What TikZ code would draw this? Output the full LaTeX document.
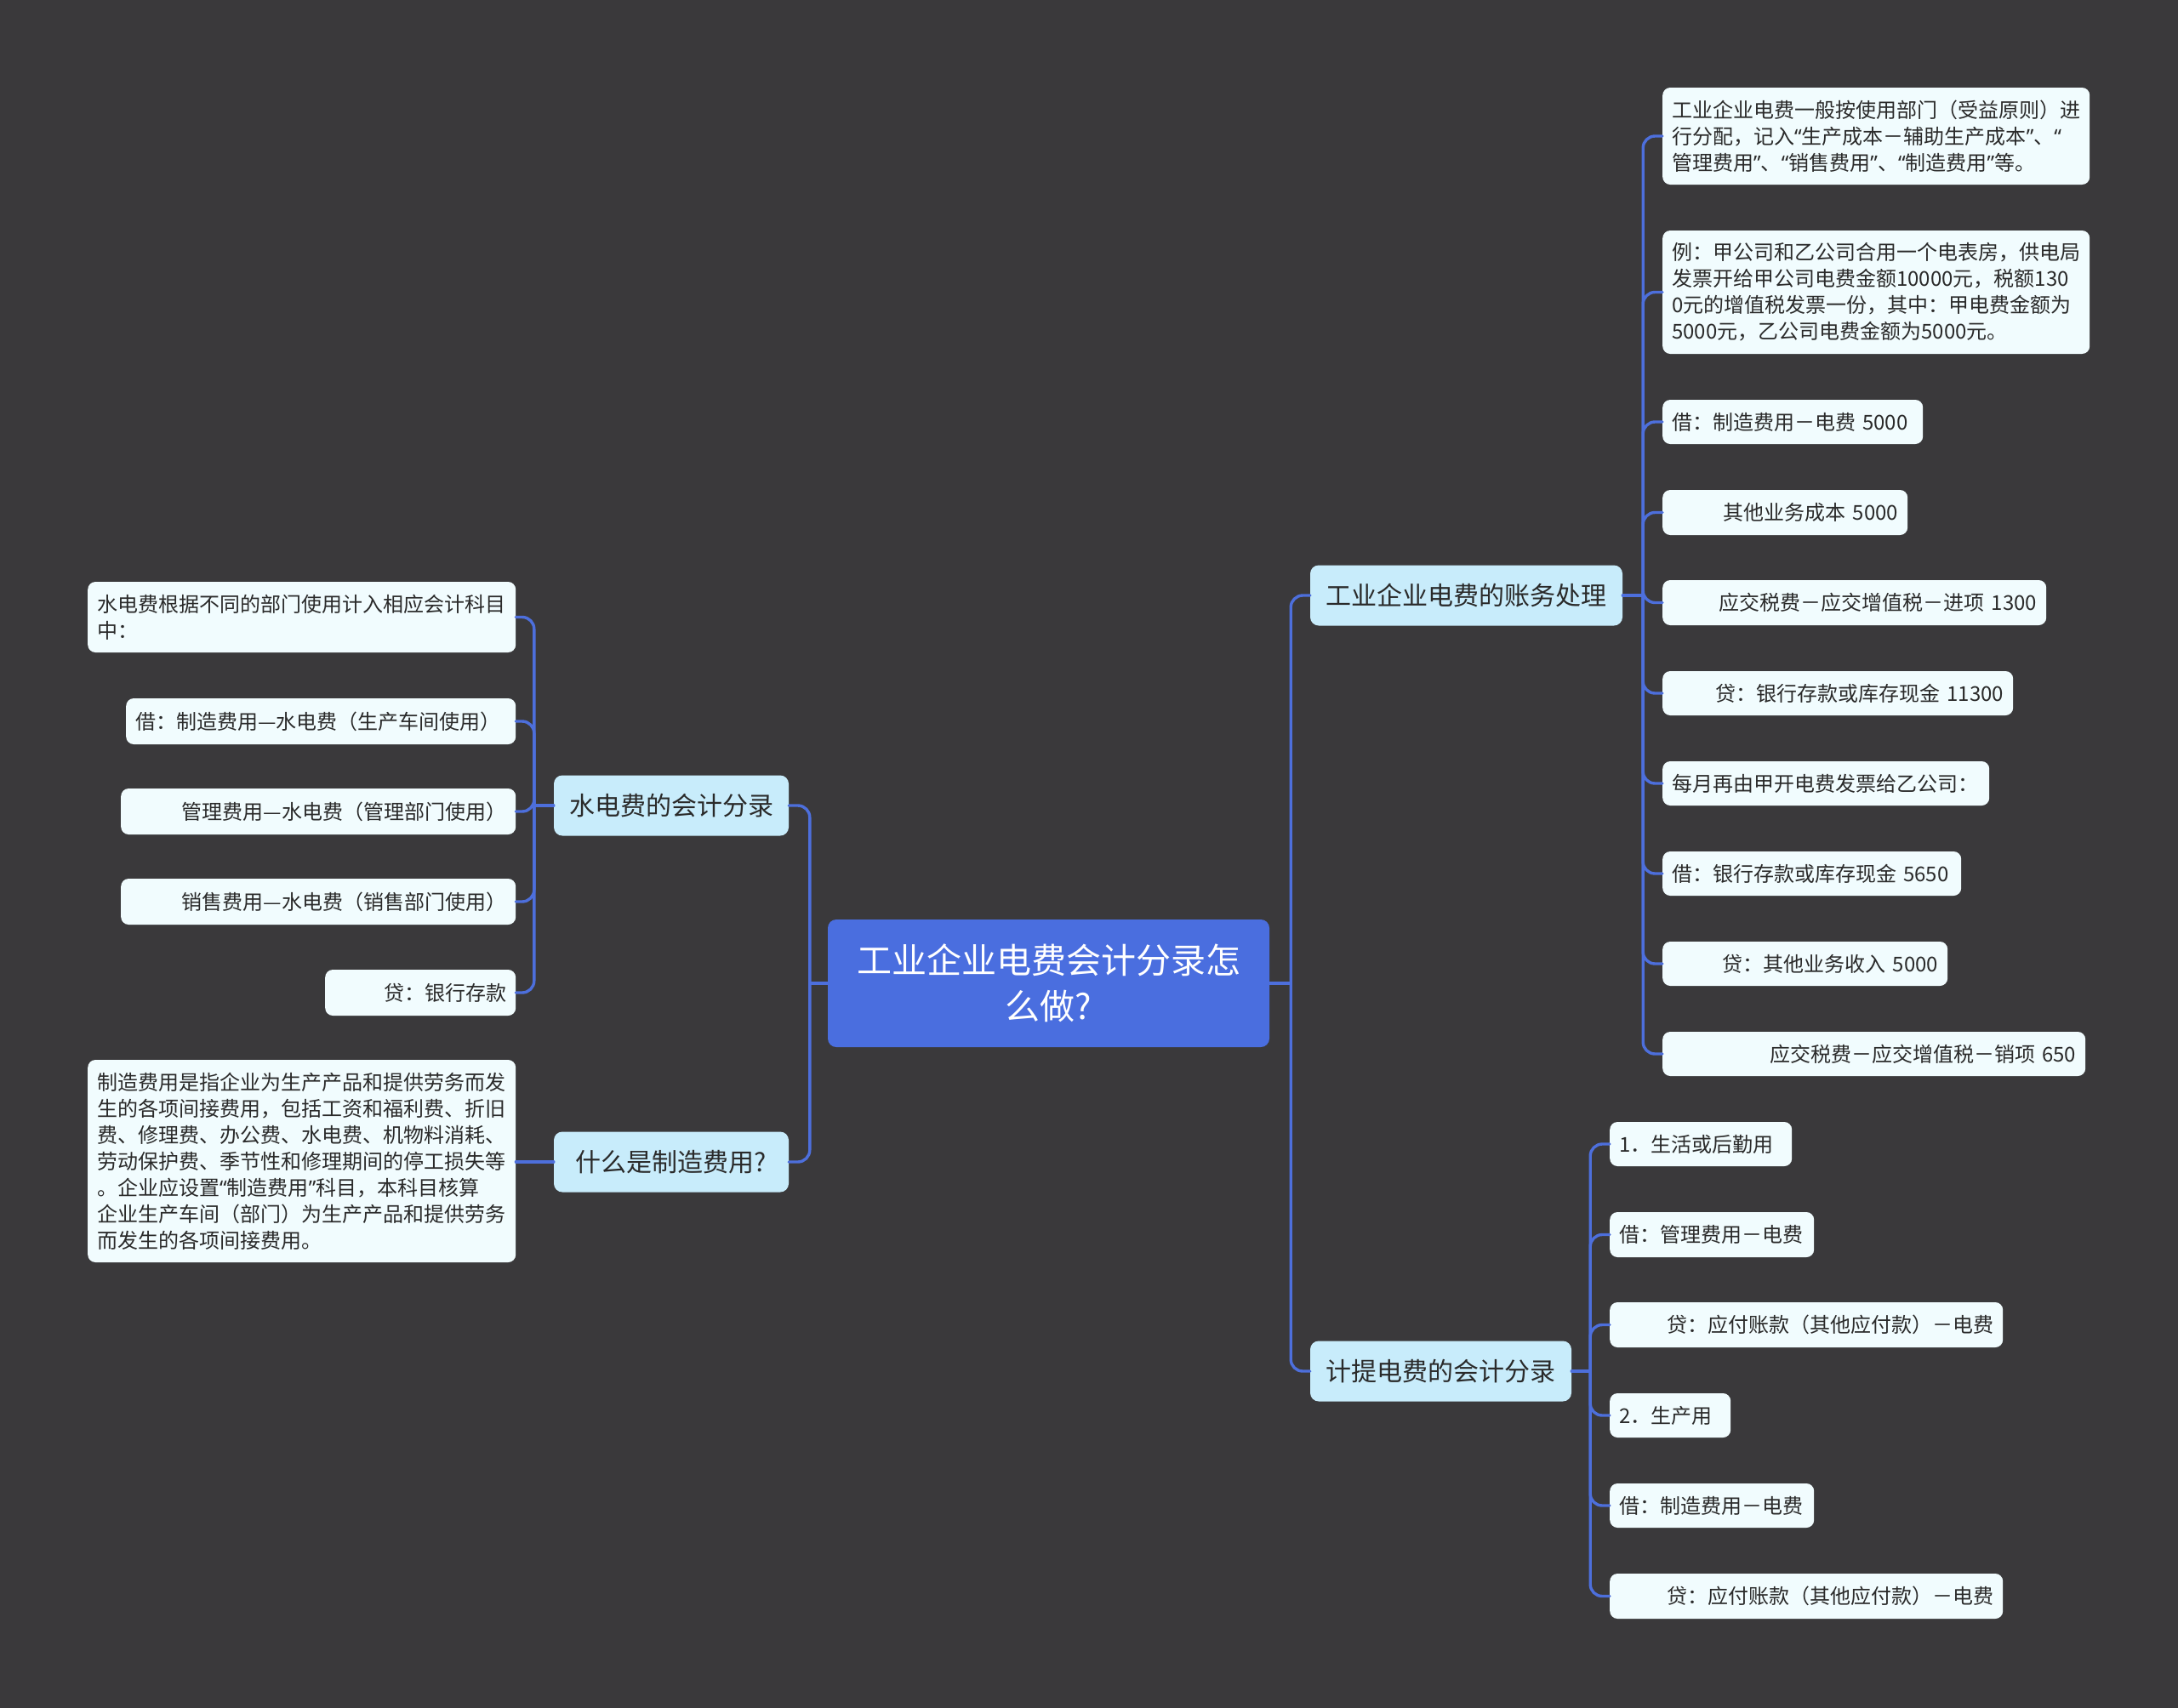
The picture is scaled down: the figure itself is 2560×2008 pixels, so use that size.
\documentclass[tikz,border=0pt]{standalone}
\usepackage{fontspec}
\setmainfont{Noto Sans CJK SC}
\newfontfamily\quotefont{Noto Sans}
\newcommand\myoq{{\quotefont “}}
\newcommand\mycq{{\quotefont ”}}
\usetikzlibrary{calc}
\definecolor{bgc}{HTML}{3A393B}
\definecolor{centerc}{HTML}{4A6EDF}
\definecolor{branchc}{HTML}{C8ECFB}
\definecolor{leafc}{HTML}{F1FCFE}
\definecolor{linec}{HTML}{4D6FDC}
\definecolor{txtc}{HTML}{2A2A2A}
\tikzset{
  centerbox/.style={fill=centerc, rounded corners=10, text=white, align=center,
    font=\fontsize{41}{54}\selectfont, inner sep=0pt},
  branchbox/.style={fill=branchc, rounded corners=10, text=txtc, align=center,
    font=\fontsize{30}{36}\selectfont, inner sep=0pt, minimum height=71},
  leafbox/.style={fill=leafc, rounded corners=9, text=txtc, align=left, anchor=west,
    font=\fontsize{24}{31}\selectfont, inner xsep=11, inner ysep=0pt},
  rleaf/.style={leafbox, align=right},
  conn/.style={draw=linec, line width=3.4, rounded corners=14, line cap=round},
}
\begin{document}
\begin{tikzpicture}[x=1pt,y=-1pt]
\fill[bgc] (0,0) rectangle (2560,2008);
\useasboundingbox (0,0) rectangle (2560,2008);

% center
\node[centerbox, minimum width=519, minimum height=150, text width=500] (C) at (1232.5,1156) {工业企业电费会计分录怎\\么做?};

% branches
\node[branchbox, minimum width=276] (B1) at (789,947) {水电费的会计分录};
\node[branchbox, minimum width=276] (B2) at (789,1366) {什么是制造费用?};
\node[branchbox, minimum width=367] (B3) at (1723.5,700) {工业企业电费的账务处理};
\node[branchbox, minimum width=307] (B4) at (1693.5,1612) {计提电费的会计分录};

% leaves right of B3
\node[leafbox, text width=480, minimum height=114] (R1) at (1954,160) {工业企业电费一般按使用部门（受益原则）进\\行分配，记入\myoq 生产成本－辅助生产成本\mycq 、\myoq\\管理费用\mycq 、\myoq 销售费用\mycq 、\myoq 制造费用\mycq 等。};
\node[leafbox, text width=480, minimum height=145] (R2) at (1954,343.5) {例：甲公司和乙公司合用一个电表房，供电局\\发票开给甲公司电费金额10000元，税额130\\0元的增值税发票一份，其中：甲电费金额为\\5000元，乙公司电费金额为5000元。};
\node[leafbox, text width=284, minimum height=52] (R3) at (1954,496) {借：制造费用－电费 5000};
\node[rleaf, text width=266, minimum height=53] (R4) at (1954,602.5) {其他业务成本 5000};
\node[rleaf, text width=429, minimum height=53] (R5) at (1954,708.5) {应交税费－应交增值税－进项 1300};
\node[rleaf, text width=390, minimum height=52] (R6) at (1954,815) {贷：银行存款或库存现金 11300};
\node[leafbox, text width=362, minimum height=52] (R7) at (1954,921) {每月再由甲开电费发票给乙公司：};
\node[leafbox, text width=329, minimum height=52] (R8) at (1954,1027) {借：银行存款或库存现金 5650};
\node[rleaf, text width=313, minimum height=52] (R9) at (1954,1133) {贷：其他业务收入 5000};
\node[rleaf, text width=475, minimum height=52] (R10) at (1954,1239) {应交税费－应交增值税－销项 650};

% leaves right of B4
\node[leafbox, text width=192, minimum height=52] (S1) at (1892,1345) {1．生活或后勤用};
\node[leafbox, text width=218, minimum height=53] (S2) at (1892,1451.5) {借：管理费用－电费};
\node[rleaf, text width=440, minimum height=53] (S3) at (1892,1557.5) {贷：应付账款（其他应付款）－电费};
\node[leafbox, text width=120, minimum height=52] (S4) at (1892,1664) {2．生产用};
\node[leafbox, text width=218, minimum height=52] (S5) at (1892,1770) {借：制造费用－电费};
\node[rleaf, text width=440, minimum height=53] (S6) at (1892,1876.5) {贷：应付账款（其他应付款）－电费};

% leaves left of B1
\node[leafbox, text width=481, minimum height=83] (L1) at (103,725.5) {水电费根据不同的部门使用计入相应会计科目\\中：};
\node[leafbox, text width=436, minimum height=54] (L2) at (148,848) {借：制造费用—水电费（生产车间使用）};
\node[rleaf, text width=442, minimum height=54] (L3) at (142,954) {管理费用—水电费（管理部门使用）};
\node[rleaf, text width=442, minimum height=54] (L4) at (142,1060) {销售费用—水电费（销售部门使用）};
\node[rleaf, text width=202, minimum height=54] (L5) at (382,1167) {贷：银行存款};
% leaf left of B2
\node[leafbox, text width=481, minimum height=238] (L6) at (103,1365) {制造费用是指企业为生产产品和提供劳务而发\\生的各项间接费用，包括工资和福利费、折旧\\费、修理费、办公费、水电费、机物料消耗、\\劳动保护费、季节性和修理期间的停工损失等\\。企业应设置\myoq 制造费用\mycq 科目，本科目核算\\企业生产车间（部门）为生产产品和提供劳务\\而发生的各项间接费用。};

% connectors: center
\draw[conn] (C.west) -- ++(-21,0) coordinate (cL);
\draw[conn] (C.east) -- ++(25,0) coordinate (cR);
\foreach \b in {B1,B2} \draw[conn] (cL) |- (\b.east);
\foreach \b in {B3,B4} \draw[conn] (cR) |- (\b.west);

% B3 children
\draw[conn] (B3.east) -- ++(24,0) coordinate (j3);
\foreach \n in {R1,R2,R3,R4,R5,R6,R7,R8,R9,R10} \draw[conn] (j3) |- (\n.west);

% B4 children
\draw[conn] (B4.east) -- ++(22,0) coordinate (j4);
\foreach \n in {S1,S2,S3,S4,S5,S6} \draw[conn] (j4) |- (\n.west);

% B1 children
\draw[conn] (B1.west) -- ++(-23,0) coordinate (j1);
\foreach \n in {L1,L2,L3,L4,L5} \draw[conn] (j1) |- (\n.east);

% B2 child
\draw[conn] (B2.west) -- (B2.west -| L6.east);
\end{tikzpicture}
\end{document}
